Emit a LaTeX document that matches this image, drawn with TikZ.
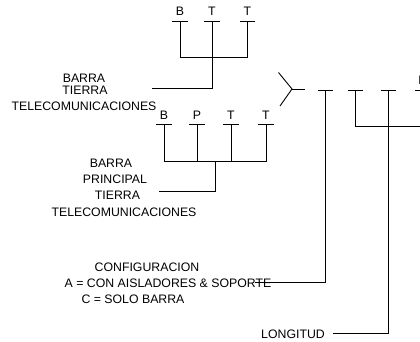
\documentclass[tikz,border=0pt]{standalone}
\usepackage{fontspec}
\setmainfont{Liberation Sans}
\begin{document}
\begin{tikzpicture}[x=1pt,y=-1pt,
  wire/.style={line width=0.9pt},
  lbl/.style={inner sep=0pt, font=\fontsize{12.3}{14}\selectfont, anchor=base},
  txt/.style={inner sep=0pt, font=\fontsize{12.3}{14}\selectfont, anchor=base}]
\useasboundingbox (0,0) rectangle (420,342);
% ---------- group 1 : B T T
\foreach \n/\x/\t in {a/180/B, b/212/T, c/247.5/T}{
  \coordinate (g1\n) at (\x,21);
  \node[lbl] (g1\n L) at (\x,16) {\t};
  \draw[wire] ([xshift=-7.7pt]g1\n) -- ([xshift=7.7pt]g1\n);
}
\coordinate (g1j) at (212,57.5);
\coordinate (g1k) at (212,88.3);
\coordinate (g1e) at (152,88.3);
\draw[wire] (g1a) |- (g1c |- g1j) -- (g1c);
\draw[wire] (g1b) -- (g1k) -- (g1e);
\node[txt] (n1a) at (84,82.3) {BARRA};
\node[txt] (n1b) at (85,95) {TIERRA};
\node[txt] (n1c) at (84,111) {TELECOMUNICACIONES};
% ---------- group 2 : B P T T
\foreach \n/\x/\t in {a/164/B, b/197/P, c/231/T, d/266/T}{
  \coordinate (g2\n) at (\x,124);
  \node[lbl] (g2\n L) at (\x,119.3) {\t};
  \draw[wire] ([xshift=-7.7pt]g2\n) -- ([xshift=7.7pt]g2\n);
}
\coordinate (g2j) at (215,161);
\coordinate (g2k) at (215,191.7);
\coordinate (g2e) at (159,191.7);
\draw[wire] (g2a) |- (g2d |- g2j) -- (g2d);
\draw[wire] (g2b) -- (g2b |- g2j);
\draw[wire] (g2c) -- (g2c |- g2j);
\draw[wire] (g2j) -- (g2k) -- (g2e);
\node[txt] (n2a) at (111,167.3) {BARRA};
\node[txt] (n2b) at (115,183.3) {PRINCIPAL};
\node[txt] (n2c) at (117.5,199.3) {TIERRA};
\node[txt] (n2d) at (124,216) {TELECOMUNICACIONES};
% ---------- right group
\coordinate (yj) at (292,89);
\coordinate (yu) at (278.5,72.5);
\coordinate (yl) at (280,106);
\coordinate (ys) at (305,89);
\draw[wire] (yu) -- (yj) -- (yl);
\draw[wire] (yj) -- (ys);
\foreach \n/\x in {a/325.5, b/355.5, c/388.5, d/422.5}{
  \coordinate (r\n) at (\x,90);
  \draw[wire] ([xshift=-7.7pt]r\n) -- ([xshift=7.7pt]r\n);
}
\node[lbl] (rdL) at (422.5,85) {B};
\coordinate (ra2) at (325.5,282.5);
\coordinate (rae) at (255,282.5);
\draw[wire] (ra) -- (ra2) -- (rae);
\coordinate (rb2) at (355.5,126.5);
\draw[wire] (rb) -- (rb2) -| (rd);
\coordinate (rc2) at (388.5,333);
\coordinate (rce) at (333,333);
\draw[wire] (rc) -- (rc2) -- (rce);
\node[txt] (cfg) at (147,271) {CONFIGURACION};
\node[txt] (cfa) at (168,287) {A = CON AISLADORES \& SOPORTE};
\node[txt] (cfc) at (133,303) {C = SOLO BARRA};
\node[txt, anchor=base east] (lon) at (325,338) {LONGITUD};
\end{tikzpicture}
\end{document}
